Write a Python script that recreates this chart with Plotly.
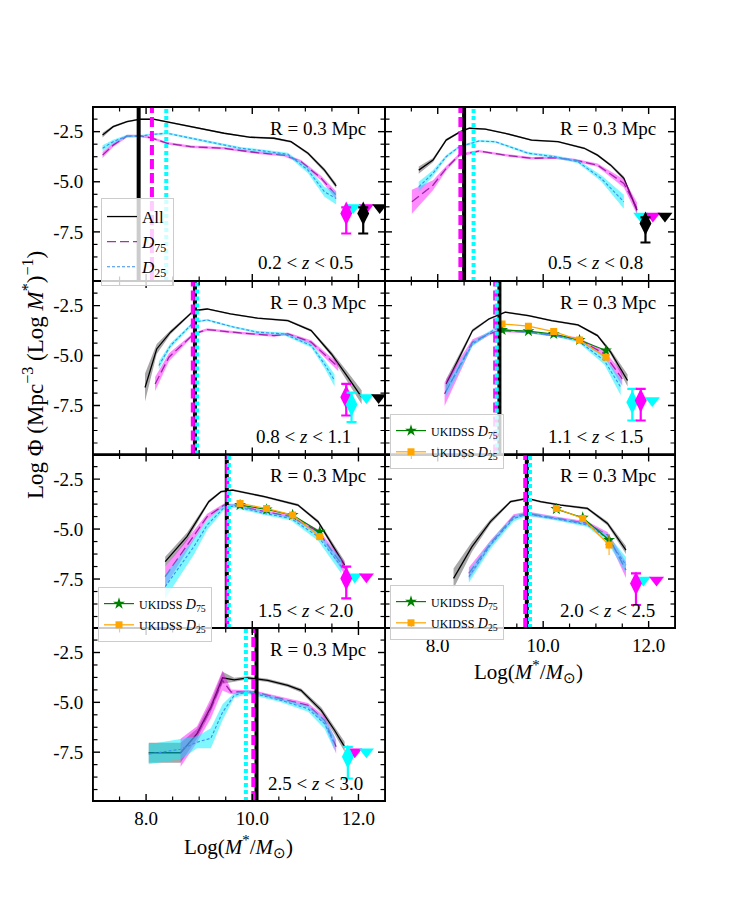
import plotly.graph_objects as go

# ---------------- data ----------------
z_text = ["0.2 &lt; <i>z</i> &lt; 0.5", "0.5 &lt; <i>z</i> &lt; 0.8", "0.8 &lt; <i>z</i> &lt; 1.1",
          "1.1 &lt; <i>z</i> &lt; 1.5", "1.5 &lt; <i>z</i> &lt; 2.0", "2.0 &lt; <i>z</i> &lt; 2.5",
          "2.5 &lt; <i>z</i> &lt; 3.0"]
radius_text = "R = 0.3 Mpc"

all_x = [
    [7.18, 7.38, 7.64, 7.89, 8.14, 8.52, 8.84, 9.47, 9.97, 10.41, 10.73, 11.05, 11.36, 11.58],
    [7.64, 7.91, 8.16, 8.43, 8.6, 8.9, 9.28, 9.78, 10.28, 10.78, 11.03, 11.28, 11.53, 11.78],
    [7.98, 8.2, 8.46, 8.9, 9.15, 9.59, 10.1, 10.67, 11.11, 11.49, 11.8, 12.06],
    [8.16, 8.66, 8.97, 9.28, 9.72, 10.16, 10.66, 11.03, 11.28, 11.6],
    [8.36, 8.77, 9.18, 9.41, 9.63, 10.23, 10.86, 11.24, 11.74],
    [8.3, 8.65, 9.0, 9.38, 9.7, 9.95, 10.33, 10.84, 11.22, 11.57],
    [8.05, 8.65, 8.96, 9.22, 9.44, 9.66, 9.91, 10.29, 10.67, 10.92, 11.3, 11.55, 11.74],
]
all_y = [
    [-2.67, -2.25, -2.0, -1.88, -1.88, -2.08, -2.25, -2.58, -2.78, -2.83, -3.0, -3.58, -4.42, -5.2],
    [-4.42, -3.92, -2.92, -2.5, -2.33, -2.37, -2.58, -2.92, -3.0, -3.33, -3.67, -4.17, -4.83, -6.42],
    [-6.6, -4.67, -3.83, -2.75, -2.67, -2.92, -3.13, -3.25, -3.75, -4.92, -6.08, -7.08],
    [-6.42, -3.75, -3.17, -2.83, -3.0, -3.25, -3.47, -4.0, -4.83, -6.25],
    [-6.63, -5.38, -3.63, -3.13, -3.05, -3.38, -3.8, -4.63, -6.8],
    [-7.47, -5.88, -4.63, -3.63, -3.47, -3.63, -3.8, -3.97, -4.72, -6.05],
    [-7.53, -7.53, -6.57, -5.23, -3.77, -3.87, -3.77, -3.9, -4.15, -4.4, -5.4, -6.4, -7.23],
]
all_e = [
    [0.12, 0.06, 0.04, 0.04, 0.04, 0.04, 0.04, 0.04, 0.04, 0.05, 0.05, 0.07, 0.1, 0.12],
    [0.18, 0.1, 0.06, 0.05, 0.04, 0.04, 0.04, 0.04, 0.04, 0.05, 0.06, 0.07, 0.1, 0.15],
    [0.7, 0.25, 0.1, 0.05, 0.04, 0.04, 0.04, 0.05, 0.06, 0.12, 0.25, 0.35],
    [0.25, 0.08, 0.05, 0.04, 0.04, 0.04, 0.05, 0.06, 0.12, 0.3],
    [0.25, 0.2, 0.08, 0.05, 0.05, 0.05, 0.06, 0.08, 0.2],
    [0.5, 0.25, 0.12, 0.06, 0.05, 0.05, 0.05, 0.06, 0.1, 0.2],
    [0.5, 0.5, 0.25, 0.25, 0.3, 0.1, 0.08, 0.08, 0.08, 0.1, 0.15, 0.2, 0.25],
]

d75_x = [
    [7.18, 7.38, 7.64, 7.89, 8.08, 8.40, 8.84, 9.47, 10.1, 10.6, 10.92, 11.3, 11.58],
    [7.51, 7.91, 8.16, 8.41, 8.78, 9.28, 9.78, 10.22, 10.6, 11.03, 11.53, 11.78],
    [8.17, 8.43, 8.9, 9.15, 9.78, 10.41, 10.67, 11.11, 11.62],
    [8.13, 8.66, 8.97, 9.16, 9.72, 10.22, 10.66, 11.16, 11.5],
    [8.36, 8.9, 9.15, 9.47, 9.66, 10.23, 10.73, 11.24, 11.74],
    [8.59, 9.0, 9.44, 9.7, 10.27, 10.84, 11.22, 11.57],
    [8.65, 8.96, 9.22, 9.44, 9.6, 10.04, 10.54, 11.05, 11.36, 11.58],
]
d75_y = [
    [-3.67, -3.17, -2.72, -2.72, -2.8, -3.08, -3.25, -3.33, -3.55, -3.67, -4.0, -4.83, -5.67],
    [-6.0, -5.17, -4.33, -3.67, -3.47, -3.67, -3.83, -3.8, -3.92, -4.17, -5.08, -6.33],
    [-6.42, -5.08, -3.92, -3.7, -3.87, -4.0, -3.92, -4.33, -5.58],
    [-6.92, -4.33, -3.92, -3.75, -3.83, -4.0, -4.17, -4.92, -6.17],
    [-7.38, -5.3, -4.38, -3.8, -3.8, -4.13, -4.38, -5.13, -6.97],
    [-7.22, -5.72, -4.38, -4.22, -4.47, -4.72, -5.3, -7.05],
    [-7.53, -6.6, -5.3, -3.9, -4.48, -4.48, -4.82, -5.15, -5.9, -7.23],
]
d75_e = [
    [0.15, 0.1, 0.07, 0.06, 0.06, 0.06, 0.06, 0.06, 0.06, 0.07, 0.08, 0.12, 0.2],
    [0.6, 0.25, 0.12, 0.08, 0.06, 0.06, 0.06, 0.06, 0.07, 0.08, 0.2, 0.3],
    [0.35, 0.2, 0.07, 0.06, 0.06, 0.06, 0.07, 0.1, 0.2],
    [0.6, 0.15, 0.08, 0.07, 0.06, 0.06, 0.08, 0.15, 0.35],
    [0.5, 0.25, 0.15, 0.08, 0.07, 0.07, 0.08, 0.12, 0.3],
    [0.3, 0.15, 0.12, 0.1, 0.08, 0.1, 0.15, 0.4],
    [0.7, 0.4, 0.5, 0.5, 0.12, 0.08, 0.1, 0.12, 0.2, 0.35],
]

d25_x = [
    [7.18, 7.38, 7.64, 7.89, 8.14, 8.40, 8.65, 9.15, 9.78, 10.23, 10.67, 11.05, 11.36, 11.58],
    [7.64, 7.91, 8.16, 8.41, 8.78, 9.09, 9.72, 10.22, 10.66, 11.1, 11.53],
    [8.24, 8.46, 8.9, 9.15, 9.66, 10.1, 10.6, 11.11, 11.36, 11.55],
    [8.16, 8.66, 9.09, 9.72, 10.22, 10.66, 11.16, 11.47],
    [8.36, 8.9, 9.15, 9.47, 9.66, 10.23, 10.73, 11.24, 11.68],
    [8.59, 9.0, 9.44, 9.7, 10.27, 10.84, 11.22, 11.57],
    [8.05, 8.65, 8.96, 9.22, 9.44, 9.66, 9.91, 10.54, 11.05, 11.36, 11.55],
]
d25_y = [
    [-3.33, -3.0, -2.72, -2.72, -2.63, -2.58, -2.72, -3.0, -3.33, -3.47, -3.63, -4.42, -5.5, -5.83],
    [-5.25, -4.58, -3.75, -3.25, -2.97, -3.0, -3.58, -3.75, -4.0, -4.83, -6.0],
    [-5.5, -4.5, -3.33, -3.22, -3.58, -3.83, -3.92, -4.5, -5.42, -6.25],
    [-6.75, -4.42, -3.67, -3.83, -4.0, -4.25, -5.25, -6.58],
    [-7.88, -5.88, -4.8, -3.92, -3.85, -4.22, -4.47, -5.38, -6.88],
    [-7.38, -5.8, -4.47, -4.25, -4.5, -4.8, -5.47, -6.8],
    [-7.6, -7.35, -7.0, -6.8, -5.5, -4.65, -4.48, -4.9, -5.32, -6.07, -7.07],
]
d25_e = [
    [0.15, 0.1, 0.06, 0.05, 0.05, 0.05, 0.05, 0.05, 0.06, 0.07, 0.08, 0.15, 0.25, 0.3],
    [0.25, 0.15, 0.08, 0.06, 0.05, 0.05, 0.06, 0.07, 0.08, 0.15, 0.35],
    [0.2, 0.12, 0.06, 0.05, 0.05, 0.06, 0.07, 0.1, 0.2, 0.3],
    [0.3, 0.12, 0.07, 0.06, 0.06, 0.08, 0.2, 0.4],
    [0.6, 0.4, 0.25, 0.12, 0.1, 0.08, 0.1, 0.2, 0.35],
    [0.3, 0.2, 0.15, 0.1, 0.08, 0.1, 0.2, 0.4],
    [0.5, 0.5, 0.3, 0.5, 0.4, 0.12, 0.1, 0.1, 0.15, 0.25, 0.35],
]

# UKIDSS comparison points (panels 4, 5, 6 -> index 3, 4, 5)
uk_panels = [3, 4, 5]
uk_x = [[9.22, 9.72, 10.2, 10.69, 11.19], [9.77, 10.27, 10.76, 11.27], [10.25, 10.75, 11.25]]
uk75_y = [[-3.72, -3.78, -3.92, -4.22, -4.75], [-3.8, -4.02, -4.3, -5.13], [-4.0, -4.43, -5.55]]
uk75_e = [[0.08, 0.08, 0.08, 0.08, 0.12], [0.08, 0.08, 0.08, 0.12], [0.1, 0.1, 0.2]]
uk25_y = [[-3.42, -3.53, -3.8, -4.22, -5.08], [-3.72, -3.97, -4.3, -5.38], [-3.97, -4.47, -5.8]]
uk25_e = [[0.08, 0.08, 0.08, 0.08, 0.1], [0.08, 0.08, 0.08, 0.15], [0.1, 0.1, 0.5]]

# completeness limits (All, D75, D25)
lim_all = [7.86, 8.50, 8.92, 9.17, 9.52, 9.69, 10.08]
lim_d75 = [8.11, 8.43, 8.88, 9.09, 9.53, 9.66, 10.02]
lim_d25 = [8.38, 8.68, 8.96, 9.12, 9.56, 9.75, 9.88]

# high-mass points with error bars (diamonds) and upper limits (triangles)
dia_x = [[11.77, 12.09], [11.94], [11.77, 11.87], [11.69, 11.85], [11.77], [11.76], [11.8]]
dia_y = [[-6.58, -6.58], [-7.08], [-7.08, -7.45], [-7.33, -7.25], [-7.47], [-7.72], [-7.73]]
dia_up = [[0.3, 0.3], [0.3], [0.66, 0.6], [0.66, 0.58], [0.59], [0.5], [0.5]]
dia_dn = [[1.0, 1.0], [0.95], [0.92, 0.88], [0.92, 1.0], [1.0], [1.08], [1.09]]
dia_c = [["magenta", "black"], ["black"], ["magenta", "cyan"], ["cyan", "magenta"], ["magenta"], ["magenta"], ["cyan"]]

tri_x = [[11.9, 12.15, 12.4], [11.85, 12.08, 12.31], [12.15, 12.38], [12.07], [11.93, 12.15], [11.9, 12.15], [11.93, 12.15]]
tri_y = [-6.28, -6.71, -7.1, -7.25, -7.38, -7.55, -7.48]
tri_c = [["cyan", "magenta", "black"], ["cyan", "magenta", "black"], ["cyan", "black"], ["cyan"],
         ["cyan", "magenta"], ["cyan", "magenta"], ["magenta", "cyan"]]

# axis tick settings
x_major = [8.0, 10.0, 12.0]
x_minor_step = 0.5
y_major = [-2.5, -5.0, -7.5]
y_minor_step = 0.625

# ---------------- layout geometry ----------------
W, H = 750, 900
FONT = "Liberation Serif"
col_px = [(93, 385), (385, 675)]
row_px = [(107, 281), (281, 454.5), (454.5, 628), (628, 801)]
panel_rc = [(0, 0), (0, 1), (1, 0), (1, 1), (2, 0), (2, 1), (3, 0)]
YR = [-9.95, -1.27]
XR = [7.0, 12.5]
MAJ_LEN, MIN_LEN = 7.0, 4.5

fig = go.Figure()


def suffix(i):
    return "" if i == 0 else str(i + 1)


def band(xs, ys, es, color, xa, ya):
    up = [y + e for y, e in zip(ys, es)]
    lo = [y - e for y, e in zip(ys, es)]
    fig.add_trace(go.Scatter(x=list(xs) + list(xs)[::-1], y=up + lo[::-1], fill="toself",
                             fillcolor=color, line=dict(width=0), mode="lines",
                             hoverinfo="skip", showlegend=False, xaxis=xa, yaxis=ya))


# tick positions from the axis ranges
x_ticks = []
v = XR[0] + x_minor_step
while v < XR[1] - 1e-6:
    x_ticks.append((round(v, 4), any(abs(v - m) < 1e-6 for m in x_major)))
    v += x_minor_step
y_ticks = []
v = y_major[0]
while v < YR[1]:
    v += y_minor_step
v -= y_minor_step
while v > YR[0]:
    if v < YR[1]:
        y_ticks.append((round(v, 4), any(abs(v - m) < 1e-6 for m in y_major)))
    v -= y_minor_step

for i, (r, c) in enumerate(panel_rc):
    k = suffix(i)
    xa, ya = "x" + k, "y" + k
    band(all_x[i], all_y[i], all_e[i], "rgba(110,110,110,0.6)", xa, ya)
    fig.add_trace(go.Scatter(x=all_x[i], y=all_y[i], mode="lines", name="All",
                             line=dict(color="black", width=1.3), showlegend=(i == 0),
                             legend="legend", xaxis=xa, yaxis=ya))
    band(d75_x[i], d75_y[i], d75_e[i], "rgba(255,0,255,0.45)", xa, ya)
    fig.add_trace(go.Scatter(x=d75_x[i], y=d75_y[i], mode="lines", name="<i>D</i><sub>75</sub>",
                             line=dict(color="rgba(140,20,150,0.85)", width=1.3, dash="9px,4px"),
                             showlegend=(i == 0), legend="legend", xaxis=xa, yaxis=ya))
    band(d25_x[i], d25_y[i], d25_e[i], "rgba(0,240,255,0.5)", xa, ya)
    fig.add_trace(go.Scatter(x=d25_x[i], y=d25_y[i], mode="lines", name="<i>D</i><sub>25</sub>",
                             line=dict(color="#3a8ef0", width=1.1, dash="3px,2px"),
                             showlegend=(i == 0), legend="legend", xaxis=xa, yaxis=ya))

    for xv, cv in zip(tri_x[i], tri_c[i]):
        fig.add_trace(go.Scatter(x=[xv], y=[tri_y[i]], mode="markers", showlegend=False,
                                 marker=dict(symbol="triangle-down", size=13, color=cv,
                                             line=dict(width=0)), xaxis=xa, yaxis=ya))
    for xv, yv, u, d, cv in zip(dia_x[i], dia_y[i], dia_up[i], dia_dn[i], dia_c[i]):
        fig.add_trace(go.Scatter(x=[xv], y=[yv], mode="markers", showlegend=False,
                                 marker=dict(symbol="diamond-tall", size=17, color=cv,
                                             line=dict(width=0)),
                                 error_y=dict(type="data", symmetric=False, array=[u], arrayminus=[d],
                                              color=cv, thickness=2.2, width=5),
                                 xaxis=xa, yaxis=ya))

    for val, col, dash in [(lim_all[i], "black", "solid"), (lim_d75[i], "magenta", "10px,4px"),
                           (lim_d25[i], "cyan", "4px,3px")]:
        fig.add_shape(type="line", xref=xa, yref=ya + " domain", x0=val, x1=val, y0=0, y1=1,
                      line=dict(color=col, width=4, dash=dash), layer="above")
    fig.add_shape(type="rect", xref=xa + " domain", yref=ya + " domain", x0=0, x1=1, y0=0, y1=1,
                  line=dict(color="black", width=1.8), fillcolor="rgba(0,0,0,0)", layer="above")

    # inward ticks on all four sides
    ph = row_px[r][1] - row_px[r][0]
    pw = col_px[c][1] - col_px[c][0]
    for tv, is_major in x_ticks:
        ln = (MAJ_LEN if is_major else MIN_LEN) / ph
        wd = 1.4 if is_major else 1.2
        for y0, y1 in [(0, ln), (1, 1 - ln)]:
            fig.add_shape(type="line", xref=xa, yref=ya + " domain", x0=tv, x1=tv, y0=y0, y1=y1,
                          line=dict(color="black", width=wd), layer="above")
    for tv, is_major in y_ticks:
        ln = (MAJ_LEN if is_major else MIN_LEN) / pw
        wd = 1.4 if is_major else 1.2
        for x0, x1 in [(0, ln), (1, 1 - ln)]:
            fig.add_shape(type="line", xref=xa + " domain", yref=ya, x0=x0, x1=x1, y0=tv, y1=tv,
                          line=dict(color="black", width=wd), layer="above")

for j, p in enumerate(uk_panels):
    k = suffix(p)
    lg = "legend" + str(j + 2)
    fig.add_trace(go.Scatter(x=uk_x[j], y=uk75_y[j], mode="lines+markers",
                             name='<span style="font-size:12px">UKIDSS</span> <i>D</i><sub>75</sub>',
                             line=dict(color="green", width=1.2),
                             marker=dict(symbol="star", size=9, color="green"),
                             error_y=dict(type="data", array=uk75_e[j], color="green", thickness=1, width=0),
                             legend=lg, xaxis="x" + k, yaxis="y" + k))
    fig.add_trace(go.Scatter(x=uk_x[j], y=uk25_y[j], mode="lines+markers",
                             name='<span style="font-size:12px">UKIDSS</span> <i>D</i><sub>25</sub>',
                             line=dict(color="orange", width=1.2),
                             marker=dict(symbol="square", size=7, color="orange"),
                             error_y=dict(type="data", array=uk25_e[j], color="orange", thickness=1, width=0),
                             legend=lg, xaxis="x" + k, yaxis="y" + k))

axes = {}
for i, (r, c) in enumerate(panel_rc):
    k = suffix(i)
    axes["xaxis" + k] = dict(
        domain=[col_px[c][0] / W, col_px[c][1] / W], anchor="y" + k, range=XR,
        showline=True, linecolor="black", linewidth=0.8, mirror=True, ticks="",
        tickmode="array", tickvals=x_major, ticktext=["%.1f" % t for t in x_major],
        showticklabels=(i in (5, 6)), tickfont=dict(family=FONT, size=19, color="black"),
        showgrid=False, zeroline=False)
    axes["yaxis" + k] = dict(
        domain=[1 - row_px[r][1] / H, 1 - row_px[r][0] / H], anchor="x" + k, range=YR,
        showline=True, linecolor="black", linewidth=0.8, mirror=True, ticks="",
        tickmode="array", tickvals=y_major, ticktext=["%.1f" % t for t in y_major],
        showticklabels=(c == 0), tickfont=dict(family=FONT, size=19, color="black"),
        ticklabelstandoff=5, showgrid=False, zeroline=False)

ann = []
z_pos = [(355, 263), (645, 263), (353, 437), (645, 437), (355, 610), (657, 610), (365, 783)]
for i, (r, c) in enumerate(panel_rc):
    ann.append(dict(text=radius_text, xref="paper", yref="paper",
                    x=(col_px[c][1] - 17) / W, y=1 - (row_px[r][0] + 21) / H,
                    xanchor="right", yanchor="middle", showarrow=False,
                    font=dict(family=FONT, size=19, color="black")))
    ann.append(dict(text=z_text[i], xref="paper", yref="paper",
                    x=z_pos[i][0] / W, y=1 - z_pos[i][1] / H,
                    xanchor="right", yanchor="middle", showarrow=False,
                    font=dict(family=FONT, size=19, color="black")))

xtitle = "Log(<i>M</i><sup>*</sup>/<i>M</i><sub>⊙</sub>)"
ann.append(dict(text=xtitle, xref="paper", yref="paper", x=528 / W, y=1 - 671 / H,
                xanchor="center", yanchor="middle", showarrow=False,
                font=dict(family=FONT, size=21, color="black")))
ann.append(dict(text=xtitle, xref="paper", yref="paper", x=238 / W, y=1 - 846 / H,
                xanchor="center", yanchor="middle", showarrow=False,
                font=dict(family=FONT, size=21, color="black")))
ann.append(dict(text="Log Φ (Mpc<sup>−3</sup> (Log <i>M</i><sup>*</sup>)<sup>−1</sup>)",
                xref="paper", yref="paper", x=33 / W, y=1 - 375 / H, textangle=-90,
                xanchor="center", yanchor="middle", showarrow=False,
                font=dict(family=FONT, size=23, color="black")))

leg_common = dict(bgcolor="rgba(255,255,255,0.8)", bordercolor="#cccccc", borderwidth=1,
                  xanchor="left", yanchor="top", tracegroupgap=0, itemwidth=30)
fig.update_layout(
    width=W, height=H, margin=dict(l=0, r=0, t=0, b=0),
    paper_bgcolor="white", plot_bgcolor="white",
    font=dict(family=FONT, color="black"),
    annotations=ann,
    legend=dict(x=101 / W, y=1 - 198 / H, font=dict(family=FONT, size=17), **leg_common),
    legend2=dict(x=390 / W, y=1 - 414 / H, font=dict(family=FONT, size=14), **leg_common),
    legend3=dict(x=98 / W, y=1 - 587 / H, font=dict(family=FONT, size=14), **leg_common),
    legend4=dict(x=390 / W, y=1 - 585 / H, font=dict(family=FONT, size=14), **leg_common),
    **axes,
)

fig.write_html("out.html", config={"displayModeBar": False})
